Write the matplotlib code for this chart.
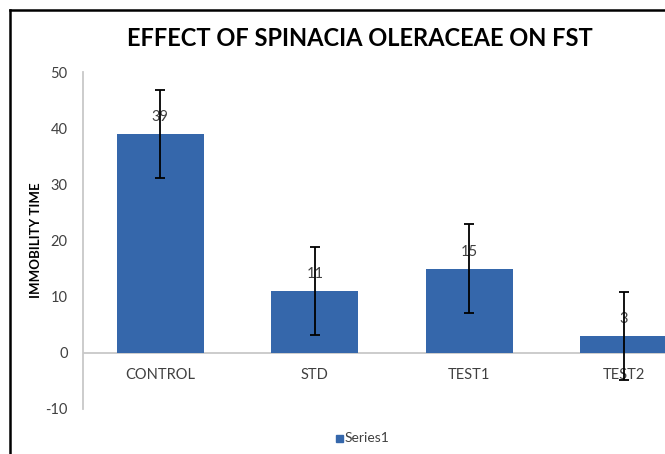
import matplotlib
matplotlib.use('Agg')
from matplotlib import pyplot as plt
from matplotlib.patches import Rectangle
import numpy as np

categories = ['CONTROL', 'STD', 'TEST1', 'TEST2']
immobility = [39, 11, 15, 3]
errors = [7.85, 7.85, 7.85, 7.85]
yticks = [-10, 0, 10, 20, 30, 40, 50]

bar_color = '#3567AB'
text_gray = '#404040'
plt.rcParams['font.family'] = ['Lato', 'DejaVu Sans']
plt.rcParams['axes.unicode_minus'] = False

fig = plt.figure(figsize=(6.65, 4.54), dpi=100)
# plot area runs past the right edge of the picture, as in the cropped original
ax = fig.add_axes([83 / 665, 45 / 454, 618 / 665, 337 / 454])

x = np.arange(len(categories))
ax.bar(x, immobility, width=0.56, color=bar_color, zorder=2)
ax.errorbar(x, immobility, yerr=errors, fmt='none', ecolor='black',
            elinewidth=1.3, capsize=3.5, capthick=1.3, zorder=4)
for xi, v in zip(x, immobility):
    ax.text(xi, v + 3, str(v), ha='center', va='center', fontsize=10.5,
            color=text_gray, zorder=3)

ax.set_xlim(-0.5, 3.5)
ax.set_ylim(-10, 50)
ax.set_yticks(yticks)
ax.set_xticks([])
ax.tick_params(axis='y', length=0, labelsize=10.5, labelcolor=text_gray, pad=11)
for s in ['top', 'right', 'bottom']:
    ax.spines[s].set_visible(False)
ax.spines['left'].set_color('#c8c8c8')
ax.spines['left'].set_linewidth(1.3)
ax.axhline(0, color='#c8c8c8', linewidth=1.3, zorder=1)

for xi, c in zip(x, categories):
    ax.text(xi, -4, c, ha='center', va='center', fontsize=10.5, color=text_gray)

fig.text(36 / 665, 1 - 240 / 454, 'IMMOBILITY TIME', rotation=90,
         ha='center', va='center', fontsize=9.5, fontweight='bold')

fig.text(360 / 665, 1 - 38 / 454, 'EFFECT OF SPINACIA OLERACEAE ON FST',
         ha='center', va='center', fontsize=17, fontweight='bold')

# legend
fig.patches.append(Rectangle((336 / 665, 1 - 442 / 454), 7 / 665, 7 / 454,
                             transform=fig.transFigure, color=bar_color))
fig.text(345 / 665, 1 - 438 / 454, 'Series1', ha='left', va='center',
         fontsize=10, color=text_gray)

# black frame of the cropped chart
fig.add_artist(plt.Line2D([10 / 665, 10 / 665], [0, 1 - 10 / 454],
                          transform=fig.transFigure, color='black', linewidth=1.8))
fig.add_artist(plt.Line2D([10 / 665, 1], [1 - 10 / 454, 1 - 10 / 454],
                          transform=fig.transFigure, color='black', linewidth=1.8))

plt.savefig('out.png', dpi=100)
